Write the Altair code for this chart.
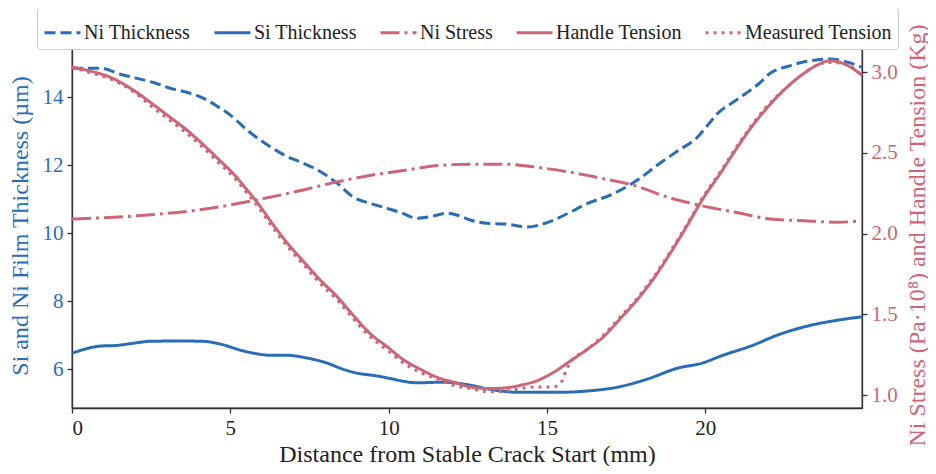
import altair as alt
import pandas as pd

# ---------------- data ----------------
ni_x = [0, 0.9, 1.5, 2.06, 2.6, 3.1, 3.6, 4.14, 4.6, 5.0, 5.53, 6.26, 6.8, 7.3, 7.93,
        8.37, 8.88, 9.4, 9.95, 10.4, 10.9, 11.4, 11.85, 12.2, 12.6, 13.1, 13.7, 14.4,
        14.8, 15.2, 15.7, 16.3, 17.0, 17.6, 18.0, 18.4, 19.1, 19.75, 20.1, 20.4, 20.8,
        21.3, 21.7, 22.05, 22.6, 23.1, 23.5, 23.95, 24.4, 24.95]
ni_thickness = [14.85, 14.85, 14.68, 14.55, 14.42, 14.26, 14.15, 13.97, 13.72, 13.47,
                13.03, 12.54, 12.25, 12.06, 11.76, 11.47, 11.06, 10.88, 10.73, 10.6,
                10.44, 10.5, 10.59, 10.52, 10.38, 10.29, 10.27, 10.18, 10.25, 10.38,
                10.6, 10.88, 11.12, 11.41, 11.65, 11.94, 12.4, 12.82, 13.2, 13.53,
                13.8, 14.12, 14.4, 14.7, 14.9, 15.03, 15.09, 15.12, 15.05, 14.88]

si_x = [0, 0.45, 0.88, 1.42, 1.9, 2.46, 3.41, 4.14, 4.68, 5.4, 5.8, 6.26, 6.79, 7.42,
        8.06, 8.5, 8.88, 9.64, 10.14, 10.5, 10.9, 11.72, 12.58, 13.2, 14.15, 15.32,
        16.27, 17.22, 18.17, 19.12, 19.94, 20.47, 21.52, 22.27, 23.1, 24.17, 24.95]
si_thickness = [6.47, 6.6, 6.68, 6.7, 6.76, 6.82, 6.83, 6.82, 6.74, 6.54, 6.46, 6.41,
                6.41, 6.33, 6.18, 6.02, 5.91, 5.8, 5.71, 5.64, 5.6, 5.62, 5.53, 5.41,
                5.32, 5.32, 5.36, 5.47, 5.71, 6.03, 6.19, 6.38, 6.71, 7.0, 7.24, 7.44,
                7.54]

stress_x = [0, 2.05, 4.14, 5.62, 7.3, 8.37, 9.4, 10.46, 11.5, 12.58, 13.6, 14.7, 15.73,
            16.78, 17.72, 18.9, 19.94, 21.0, 22.05, 23.1, 24.17, 24.95]
ni_stress = [2.09, 2.11, 2.15, 2.2, 2.27, 2.32, 2.36, 2.39, 2.42, 2.43, 2.43, 2.41, 2.38,
             2.34, 2.3, 2.22, 2.17, 2.13, 2.09, 2.08, 2.07, 2.08]

handle_x = [0, 0.5, 1.3, 2.0, 2.56, 3.1, 3.63, 4.15, 4.68, 5.1, 5.53, 5.9, 6.26, 6.89,
            7.3, 7.8, 8.37, 8.9, 9.42, 9.95, 10.46, 11.0, 11.53, 12.05, 12.58, 13.2,
            13.9, 14.15, 14.7, 15.2, 15.73, 16.25, 16.78, 17.3, 17.85, 18.4, 18.9, 19.4,
            19.94, 20.5, 21.0, 21.5, 22.05, 22.6, 23.1, 23.5, 23.95, 24.4, 24.95]
handle_tension = [3.03, 3.01, 2.96, 2.88, 2.8, 2.72, 2.64, 2.55, 2.45, 2.37, 2.27, 2.18,
                  2.08, 1.92, 1.83, 1.72, 1.61, 1.49, 1.38, 1.3, 1.22, 1.16, 1.11, 1.08,
                  1.05, 1.04, 1.05, 1.06, 1.09, 1.14, 1.21, 1.28, 1.36, 1.47, 1.59, 1.73,
                  1.88, 2.04, 2.22, 2.38, 2.53, 2.67, 2.8, 2.91, 2.99, 3.04, 3.07, 3.05,
                  2.98]

meas_x = [0, 0.5, 1.3, 2.0, 2.56, 3.1, 3.63, 4.15, 4.68, 5.1, 5.53, 5.9, 6.26, 6.89,
          7.3, 7.8, 8.37, 8.9, 9.42, 9.95, 10.46, 11.0, 11.53, 12.05, 12.58, 13.2, 13.9,
          14.15, 14.7, 15.2, 15.45, 15.6, 15.73, 16.25, 16.78, 17.3, 17.85, 18.4, 18.9,
          19.4, 19.94, 20.5, 21.0, 21.5, 22.05, 22.6, 23.1, 23.5, 23.95, 24.4, 24.95]
measured_tension = [3.03, 3.0, 2.95, 2.87, 2.78, 2.7, 2.62, 2.53, 2.43, 2.35, 2.25, 2.16,
                    2.06, 1.9, 1.81, 1.7, 1.59, 1.47, 1.36, 1.28, 1.2, 1.14, 1.1, 1.06,
                    1.04, 1.02, 1.03, 1.04, 1.05, 1.05, 1.08, 1.15, 1.2, 1.28, 1.37, 1.48,
                    1.6, 1.74, 1.89, 2.05, 2.23, 2.39, 2.54, 2.68, 2.81, 2.91, 2.99, 3.04,
                    3.06, 3.05, 2.98]

series_order = ["Ni Thickness", "Si Thickness", "Ni Stress", "Handle Tension", "Measured Tension"]
x_ticks = [0, 5, 10, 15, 20]
left_ticks = [6, 8, 10, 12, 14]
right_ticks = [1.0, 1.5, 2.0, 2.5, 3.0]

# ---------------- styling ----------------
BLUE = "#2b6db5"
RED = "#cc6677"
FONT = "Liberation Serif"
LEGEND_FONT = "Times New Roman"
colors = [BLUE, BLUE, RED, RED, RED]
dashes = [[11, 5], [1, 0], [19, 5, 3, 5], [1, 0], [3, 5]]


def frame(xs, ys, name):
    return pd.DataFrame({"x": xs, "y": ys, "series": name, "idx": list(range(len(xs)))})


left_df = pd.concat([frame(ni_x, ni_thickness, "Ni Thickness"),
                     frame(si_x, si_thickness, "Si Thickness")])
right_df = pd.concat([frame(stress_x, ni_stress, "Ni Stress"),
                      frame(handle_x, handle_tension, "Handle Tension"),
                      frame(meas_x, measured_tension, "Measured Tension")])


def make_legend():
    return alt.Legend(
        title=None, orient="none", legendX=-35, legendY=-36, direction="horizontal",
        columns=5, symbolType="stroke", symbolSize=1296, symbolStrokeWidth=3,
        labelOffset=2, columnPadding=17, padding=6, fillColor="white",
        strokeColor="#cccccc", cornerRadius=3, labelLimit=300,
    )


color = alt.Color("series:N", scale=alt.Scale(domain=series_order, range=colors),
                  legend=make_legend())
dash = alt.StrokeDash("series:N", scale=alt.Scale(domain=series_order, range=dashes),
                      legend=make_legend())

x_enc = alt.X(
    "x:Q",
    scale=alt.Scale(domain=[0, 24.95], nice=False, zero=False),
    axis=alt.Axis(values=x_ticks, title="Distance from Stable Crack Start (mm)", format="d",
                  labelColor="#222", titleColor="#222"),
)

left = alt.Chart(left_df).mark_line(strokeWidth=3, interpolate="monotone").encode(
    x=x_enc,
    y=alt.Y("y:Q", scale=alt.Scale(domain=[4.86, 15.59], nice=False, zero=False),
            axis=alt.Axis(values=left_ticks, orient="left",
                          title="Si and Ni Film Thickness (µm)",
                          labelColor=BLUE, titleColor=BLUE, titlePadding=10)),
    color=color, strokeDash=dash, order="idx:Q", detail="series:N",
)

right = alt.Chart(right_df).mark_line(strokeWidth=3, interpolate="monotone").encode(
    x=x_enc,
    y=alt.Y("y:Q", scale=alt.Scale(domain=[0.92, 3.18], nice=False, zero=False),
            axis=alt.Axis(values=right_ticks, orient="right", format=".1f",
                          title="Ni Stress (Pa·10⁸) and Handle Tension (Kg)",
                          titleAngle=270, titleBaseline="middle",
                          titleAlign="center", titleX=55, titleY=192,
                          labelColor=RED, titleColor=RED)),
    color=color, strokeDash=dash, order="idx:Q", detail="series:N",
)

chart = (
    alt.layer(left, right)
    .resolve_scale(y="independent")
    .properties(
        width=790, height=365,
        autosize=alt.AutoSizeParams(type="none"),
        padding={"left": 64, "top": 35, "right": 66, "bottom": 58},
    )
    .configure(font=FONT)
    .configure_view(stroke="#333333", strokeWidth=1.3)
    .configure_axis(
        grid=False, labelFont=FONT, titleFont=FONT, labelFontSize=21, titleFontSize=24,
        titleFontWeight="normal", domainColor="#333333", domainWidth=1.3,
        tickColor="#333333", tickWidth=1.3, tickSize=5, labelPadding=4,
    )
    .configure_legend(labelFont=LEGEND_FONT, labelFontSize=20, labelColor="#222")
)

chart.save("out.html", embed_options={"renderer": "svg", "actions": False})
